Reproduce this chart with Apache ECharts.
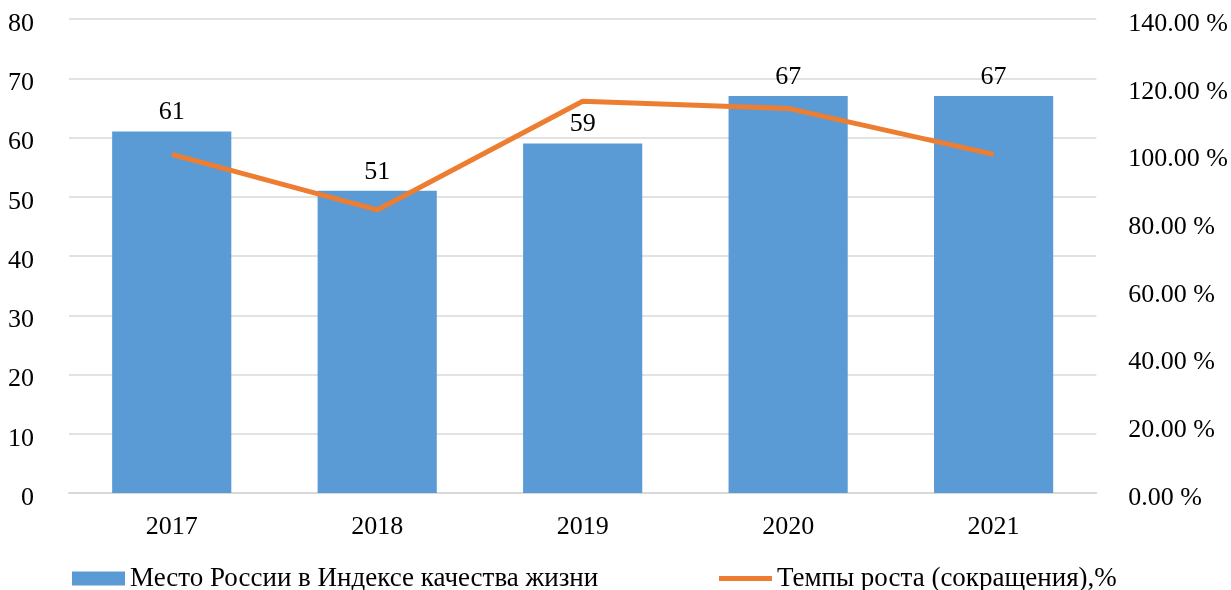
<!DOCTYPE html>
<html>
<head>
<meta charset="utf-8">
<script src="https://cdn.jsdelivr.net/npm/echarts@6/dist/echarts.min.js"></script>
<style>html,body{margin:0;padding:0;background:#fff}#c{width:1231px;height:590px}</style>
</head>
<body>
<div id="c"></div>
<script>
const categories = ['2017', '2018', '2019', '2020', '2021'];
const rankValues = [61, 51, 59, 67, 67];
const growthValues = [100.0, 83.6, 115.7, 113.6, 100.0];
const barName = 'Место России в Индексе качества жизни';
const lineName = 'Темпы роста (сокращения),%';

const font = 'Liberation Serif';
const fs = 26;
const chart = echarts.init(document.getElementById('c'));
chart.setOption({
  animation: false,
  textStyle: { fontFamily: font },
  grid: { left: 69, right: 134, top: 19, bottom: 97 },
  legend: [
    { data: [barName], left: 67, top: 560, icon: 'rect', itemWidth: 53, itemHeight: 14,
      textStyle: { fontFamily: font, fontSize: 27, color: '#000' } },
    { data: [lineName], left: 714, top: 560, icon: 'rect', itemWidth: 53, itemHeight: 5,
      textStyle: { fontFamily: font, fontSize: 27, color: '#000' } }
  ],
  xAxis: {
    type: 'category', data: categories,
    axisLine: { lineStyle: { color: '#d9d9d9', width: 2 } },
    axisTick: { show: false },
    axisLabel: { fontFamily: font, fontSize: fs, color: '#000', margin: 21 }
  },
  yAxis: [
    { type: 'value', min: 0, max: 80, interval: 10,
      axisLine: { show: false }, axisTick: { show: false },
      splitLine: { lineStyle: { color: '#d9d9d9', width: 1.5 } },
      axisLabel: { fontFamily: font, fontSize: fs, color: '#000', margin: 35,
        formatter: v => '{a|' + v + '}',
        rich: { a: { fontFamily: font, fontSize: fs, color: '#000', padding: [10, 0, 0, 0] } } } },
    { type: 'value', min: 0, max: 140, interval: 20, position: 'right',
      axisLine: { show: false }, axisTick: { show: false }, splitLine: { show: false },
      axisLabel: { fontFamily: font, fontSize: fs, color: '#000', margin: 32,
        formatter: v => '{a|' + v.toFixed(2) + ' %}',
        rich: { a: { fontFamily: font, fontSize: fs, color: '#000', padding: [10, 0, 0, 0] } } } }
  ],
  series: [
    { name: barName, type: 'bar', data: rankValues, barWidth: '58%',
      itemStyle: { color: '#5b9bd5' },
      label: { show: true, position: 'top', distance: 6, fontFamily: font, fontSize: fs, color: '#000' } },
    { name: lineName, type: 'line', yAxisIndex: 1, data: growthValues,
      symbol: 'none', lineStyle: { color: '#ed7d31', width: 5 }, itemStyle: { color: '#ed7d31' }, z: 5 }
  ]
});
</script>
</body>
</html>
